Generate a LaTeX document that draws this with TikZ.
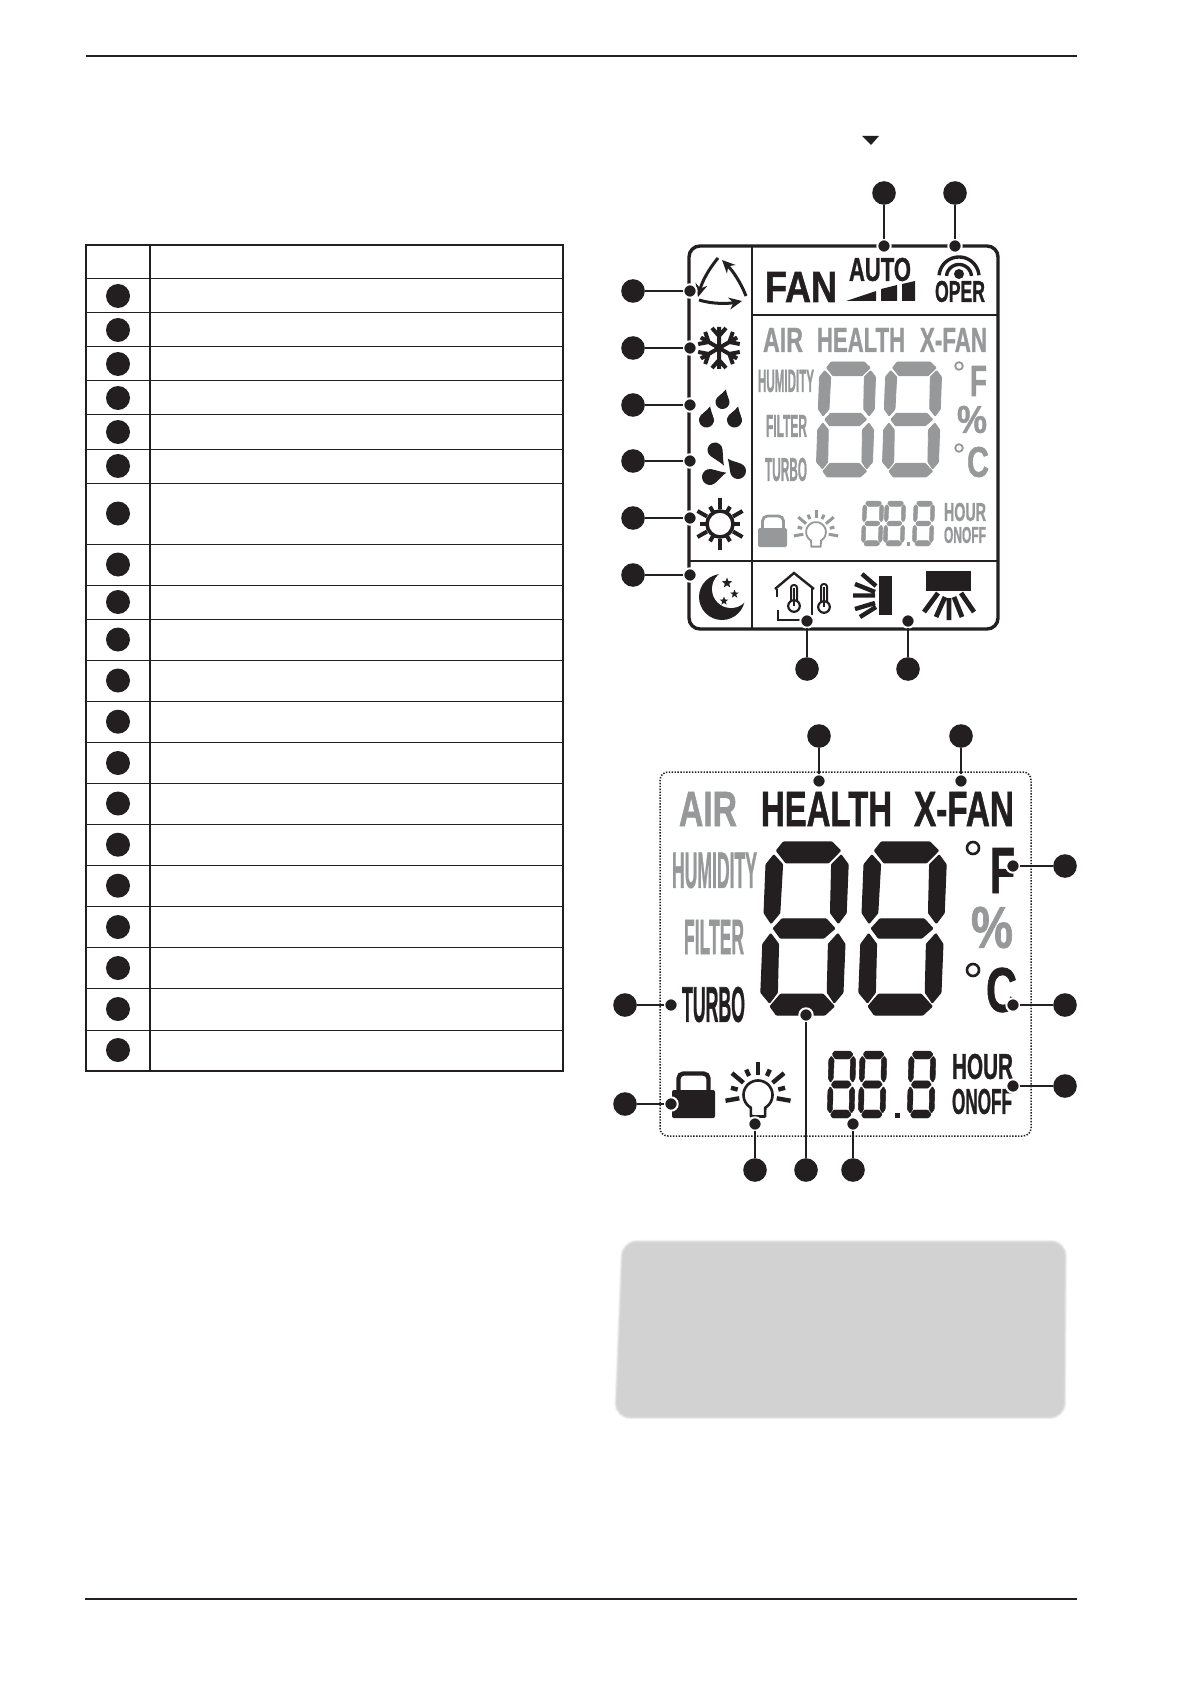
\documentclass[tikz,border=0pt]{standalone}
\usepackage{fontspec}
\usepackage{graphicx}
\setmainfont{Liberation Sans}
\newfontfamily\lcdfont[BoldFeatures={FakeBold=1.3}]{Liberation Sans}
\usetikzlibrary{arrows.meta}
\definecolor{ink}{HTML}{231F20}
\definecolor{lcdgray}{HTML}{96989A}
\definecolor{boxgray}{HTML}{D2D2D2}
\tikzset{
  bigdot/.style={circle,fill=ink,inner sep=0pt,outer sep=0pt,minimum size=11.8pt},
  smalldot/.style={circle,fill=ink,draw=white,line width=1pt,inner sep=0pt,outer sep=0pt,minimum size=6.7pt},
  leaderline/.style={draw=ink,line width=.95pt},
  lcdtxt/.style={inner sep=0pt,outer sep=0pt}
}
\newcommand\lcdtext[7]{% name x1 y1 x2 y2 color text
  \pgfmathsetmacro\lcdw{(#4-#2)*.5}\pgfmathsetmacro\lcdh{(#5-#3)*.5}
  \pgfmathsetmacro\lcdx{(#2+#4)/2}\pgfmathsetmacro\lcdy{(#3+#5)/2}
  \node[lcdtxt,text=#6] (#1) at (\lcdx,\lcdy) {\resizebox{\lcdw pt}{\lcdh pt}{\lcdfont\bfseries #7}};}
\newcommand\lead[5]{% id, big x y, small x y
  \node[bigdot] (b#1) at (#2,#3) {};
  \node[smalldot] (s#1) at (#4,#5) {};
  \draw[leaderline] (b#1) -- (s#1);}
\newcommand\segdig[6]{% x y w h skew colour
  \pgfmathsetmacro\seglw{#3/82*.6}
  \begin{scope}[shift={(#1,#2)},xscale=#3/100,yscale=#4/100,xslant=#5/#3]
  \fill[#6,draw=#6,line width=\seglw pt,rounded corners=.35pt]
   (20,0)--(79,0)--(90,5)--(76,12)--(24,12)--(12,5)--cycle
   (9,7.5)--(20,13)--(19,41)--(9,47)--(0,41)--(0,13)--cycle
   (91,7.5)--(100,13)--(100,41)--(91,47)--(81,41)--(80,13)--cycle
   (12,50)--(22,44.5)--(76,44.5)--(87,50)--(74,55.5)--(21,55.5)--cycle
   (9,53)--(19,59)--(20,87)--(11,93)--(0,87)--(0,59)--cycle
   (91,53)--(100,59)--(100,87)--(90,93)--(81,87)--(80,59)--cycle
   (12,95)--(24,88)--(76,88)--(90,95)--(79,100)--(20,100)--cycle;
  \end{scope}}
\newcommand\tear[6]{% x y r len angle colour
  \fill[#6,shift={(#1,#2)},rotate=#5]
   (#4,0) .. controls ({.55*#4},{.35*#3}) and ({.55*#3},#3) .. (0,#3)
   .. controls ({-.55*#3},#3) and (-#3,{.55*#3}) .. (-#3,0)
   .. controls (-#3,{-.55*#3}) and ({-.55*#3},-#3) .. (0,-#3)
   .. controls ({.55*#3},-#3) and ({.55*#4},{-.35*#3}) .. (#4,0) -- cycle;}
\newcommand\lockicon[9]{% x1 y1 x2 y2 sx1 sx2 top colour width
  \draw[#8,line width=#9,rounded corners=2.5pt] (#5,#2) -- (#5,#7) -- (#6,#7) -- (#6,#2);
  \fill[#8,rounded corners=1pt] (#1,#2) rectangle (#3,#4);}
\newcommand\bulbicon[5]{% x y scale colour width
  \begin{scope}[shift={(#1,#2)},scale=#3]
  \draw[#4,line width=#5,line join=round,fill=white]
    plot[domain=120:420,samples=40] ({14.5*cos(\x)},{14.5*sin(\x)}) -- (7,21.5) -- (-7,21.5) -- cycle;
  \foreach \aa/\ra/\rb in {-90/20/33,-65/21/28,-115/21/28,-40/19/34,-140/19/34,-15/21/28,-165/21/28,10/19/33,170/19/33}
    \draw[#4,line width=#3*2.2 pt] (\aa:\ra) -- (\aa:\rb);
  \end{scope}}
\newcommand\starfive[3]{%
  \fill[ink,shift={(#1,#2)}] (-90:#3) -- (-54:{#3*.42}) -- (-18:#3) -- (18:{#3*.42}) -- (54:#3) -- (90:{#3*.42}) -- (126:#3) -- (162:{#3*.42}) -- (198:#3) -- (234:{#3*.42}) -- cycle;}
\newcommand\thermo[3]{% x bulb-y top-y
  \draw[ink,line width=1pt,fill=white,rounded corners=1.3pt] (#1-3,#2-3) -- (#1-3,#3) -- (#1+3,#3) -- (#1+3,#2-3);
  \draw[ink,line width=1.1pt,fill=white] (#1,#2) circle[radius=5.8];
  \fill[ink] (#1-1,#3+3) rectangle (#1+1,#2);}
\begin{document}
\begin{tikzpicture}[x=.5pt,y=-.5pt]
\useasboundingbox (0,0) rectangle (1191,1684);
\fill[white] (0,0) rectangle (1191,1684);
% page rules
\coordinate (ruleAl) at (86,56); \coordinate (ruleAr) at (1077,56);
\coordinate (ruleBl) at (85,1599); \coordinate (ruleBr) at (1077,1599);
\draw[ink,line width=.55pt] (ruleAl) -- (ruleAr);
\draw[ink,line width=1.1pt] (ruleBl) -- (ruleBr);
\fill[ink] (862,136) -- (879,136) -- (871,145) -- cycle;
% table
\foreach \ry in {279,313,347,381,415,449,483,544.5,585.3,619.3,660.3,701.3,742.3,783.3,824.3,865.3,906.3,947.3,988.3,1030.3}
  \draw[ink,line width=.5pt] (86,\ry) -- (563,\ry);
\draw[ink,line width=.55pt] (150,245) -- (150,1071);
\draw[ink,line width=1pt] (86,245) rectangle (563,1071);
\foreach \i/\cy in {1/296,2/330,3/364,4/398,5/432,6/466,7/513.5,8/564.5,9/602,10/639.5,11/680.5,12/721.7,13/763,14/803.5,15/844.7,16/885.7,17/927,18/968,19/1009,20/1050}
  \node[bigdot,minimum size=12pt] (t\i) at (118,\cy) {};
% ---------- small display ----------
\draw[ink,line width=1.7pt,rounded corners=5.5pt] (689,246) rectangle (998,629);
\draw[ink,line width=1.3pt] (752,246) -- (752,629);
\draw[ink,line width=1.3pt] (752,315) -- (998,315);
\draw[ink,line width=1.3pt] (689,561) -- (998,561);
% mode arrows
\draw[ink,line width=1.5pt,-{Stealth[length=6.5pt,width=6pt]}] (718,258) .. controls (708,270) and (702,282) .. (698,297);
\draw[ink,line width=1.5pt,-{Stealth[length=6.5pt,width=6pt]}] (746,296) .. controls (741,283) and (733,271) .. (722,260);
\draw[ink,line width=1.5pt,-{Stealth[length=6.5pt,width=6pt]}] (699,300) .. controls (712,304) and (727,304) .. (742,301);
% snowflake
\foreach \aa in {90,30,-30,-90,-150,150}
  \draw[ink,line width=2pt,shift={(719,348)},rotate=\aa] (0,0) -- (21,0) (12,0) -- (20,7) (12,0) -- (20,-7);
% drops
\tear{722.5}{402}{7}{13}{75}{ink}
\tear{706.5}{420}{7.5}{14}{75}{ink}
\tear{734.5}{420}{7.5}{14}{75}{ink}
% fan
\tear{715}{450}{7.5}{18}{-60}{ink}
\tear{738}{471}{8}{16}{130}{ink}
\tear{710}{477}{8}{17}{15}{ink}
% sun
\draw[ink,line width=1.8pt] (720,524) circle[radius=13];
\foreach \aa/\ra/\rb in {90/15/26,-90/15/26,30/15/26,-30/15/26,150/15/26,210/15/26,0/14/20,180/14/20,60/14/20,120/14/20,240/14/20,300/14/20}
  \draw[ink,line width=2pt,shift={(720,524)}] (\aa:\ra) -- (\aa:\rb);
% moon
\fill[ink] (722,597) circle[radius=23];
\fill[white] (731,589) circle[radius=19];
\starfive{727}{583}{5.5}
\starfive{734.5}{594}{4.5}
\starfive{724}{601}{4.5}
% top row
\lcdtext{fan}{765}{272}{837}{302}{ink}{FAN}
\lcdtext{auto}{849}{258}{911}{281}{ink}{AUTO}
\lcdtext{oper}{935}{281}{985}{302}{ink}{OPER}
\fill[ink] (846,301) -- (876,291) -- (876,301) -- cycle;
\fill[ink] (881,289) -- (897,285) -- (897,301) -- (881,301) -- cycle;
\fill[ink] (902,284) -- (915,281) -- (915,301) -- (902,301) -- cycle;
\fill[ink] (959,274) circle[radius=5];
\draw[ink,line width=1.7pt] plot[domain=185:355,samples=30] ({959+20*cos(\x)},{277+20*sin(\x)});
\draw[ink,line width=1.7pt] plot[domain=185:355,samples=30] ({959+12.5*cos(\x)},{277+12.5*sin(\x)});
% middle gray
\lcdtext{airs}{763}{328}{803}{352}{lcdgray}{AIR}
\lcdtext{healths}{817}{328}{905}{352}{lcdgray}{HEALTH}
\lcdtext{xfans}{920}{328}{987}{352}{lcdgray}{X-FAN}
\lcdtext{hums}{758}{370}{814}{392}{lcdgray}{HUMIDITY}
\lcdtext{fils}{766}{415}{807}{437}{lcdgray}{FILTER}
\lcdtext{turs}{765}{458}{807}{481}{lcdgray}{TURBO}
\segdig{820}{362}{56}{115}{4}{lcdgray}
\segdig{886}{362}{56}{115}{4}{lcdgray}
\draw[lcdgray,line width=.9pt] (959,366) circle[radius=3.8];
\lcdtext{fs}{970}{366}{987}{396}{lcdgray}{F}
\lcdtext{pcts}{957}{406}{987}{433}{lcdgray}{\%}
\draw[lcdgray,line width=.9pt] (959,448) circle[radius=3.8];
\lcdtext{cs}{967}{447}{989}{477}{lcdgray}{C}
\lcdtext{hours}{944}{503}{986}{521}{lcdgray}{HOUR}
\lcdtext{onoffs}{944}{527}{986}{543}{lcdgray}{ONOFF}
\lockicon{758}{528}{787}{547}{762.5}{783.5}{516}{lcdgray}{1.4pt}
\bulbicon{816}{532}{.68}{lcdgray}{.9pt}
\segdig{863}{501}{21}{45}{2}{lcdgray}
\segdig{885}{501}{21}{45}{2}{lcdgray}
\fill[lcdgray] (907,542) rectangle (910,546);
\segdig{914}{501}{21}{45}{2}{lcdgray}
% bottom row
\draw[ink,line width=1.2pt] (777,589) -- (777,597);
\draw[ink,line width=1.2pt] (775,589) -- (794,573) -- (814,589);
\draw[ink,line width=1.2pt] (778,610) -- (778,620) -- (802,620);
\draw[ink,line width=1.2pt] (812,588) -- (812,615);
\thermo{794}{606}{585}
\thermo{824}{607}{584}
\fill[ink] (879,576) rectangle (892,615);
\draw[ink,line width=2.2pt] (862,574) -- (876,586) (855,584) -- (875,592) (853,595.5) -- (875,595.5) (855,609) -- (875,603) (860,617) -- (876,607);
\fill[ink] (926,571) rectangle (971,591);
\draw[ink,line width=2.4pt] (938,593) -- (924,612) (945,597) -- (936,617) (949,598) -- (949,620) (954,597) -- (962,617) (961,593) -- (974,612);
% leaders small display
\lead{a1}{633}{291}{690}{291}
\lead{a2}{633}{348}{690}{348}
\lead{a3}{633}{405}{690}{405}
\lead{a4}{633}{461}{690}{461}
\lead{a5}{633}{518}{690}{518}
\lead{a6}{633}{575}{690}{575}
\lead{a7}{884}{193}{884}{246}
\lead{a8}{955}{193}{955}{246}
\lead{a9}{807}{669}{807}{621}
\lead{a10}{908}{669}{908}{621}
% ---------- large display ----------
\draw[ink,line width=.75pt,dash pattern=on .7pt off .75pt,rounded corners=4pt] (660,772) rectangle (1031,1136);
\lcdtext{air}{679}{792}{737}{826}{lcdgray}{AIR}
\lcdtext{health}{761}{792}{892}{826}{ink}{HEALTH}
\lcdtext{xfan}{914}{792}{1014}{826}{ink}{X-FAN}
\lcdtext{hum}{672}{853}{757}{888}{lcdgray}{HUMIDITY}
\lcdtext{fil}{684}{920}{744}{954}{lcdgray}{FILTER}
\lcdtext{tur}{682}{987}{745}{1022}{ink}{TURBO}
\segdig{767}{842}{82}{173}{7}{ink}
\segdig{865}{842}{82}{173}{7}{ink}
\draw[ink,line width=1.3pt] (973,848) circle[radius=6];
\lcdtext{f}{990}{848}{1015}{893}{ink}{F}
\lcdtext{pct}{971}{907}{1013}{948}{lcdgray}{\%}
\draw[ink,line width=1.3pt] (973,970) circle[radius=6];
\lcdtext{c}{986}{968}{1017}{1012}{ink}{C}
\lcdtext{hour}{952}{1054}{1013}{1079}{ink}{HOUR}
\lcdtext{onoff}{952}{1089}{1012}{1114}{ink}{ONOFF}
\lockicon{672}{1090}{715}{1118}{678.5}{708.5}{1073.5}{ink}{2.2pt}
\bulbicon{758}{1095}{1}{ink}{1.3pt}
\segdig{829}{1051}{27}{67}{2}{ink}
\segdig{860}{1051}{27}{67}{2}{ink}
\fill[ink] (895,1113) rectangle (900,1118);
\segdig{909}{1051}{27}{67}{2}{ink}
\lead{c1}{819}{736}{819}{781}
\lead{c2}{961}{736}{961}{781}
\lead{c3}{1065}{866}{1013}{866}
\lead{c4}{1065}{1005}{1013}{1005}
\lead{c5}{1065}{1086}{1013}{1086}
\lead{c6}{625}{1005}{671}{1005}
\lead{c7}{625}{1104}{671}{1104}
\lead{c8}{755}{1170}{755}{1124}
\lead{c9}{806}{1170}{806}{1015}
\lead{c10}{853}{1170}{853}{1124}
% gray note box
\def\notebox{(623,1242) -- (1065,1242) -- (1064,1417) -- (616,1417) -- cycle}
\draw[rounded corners=7pt,line width=2.2pt,color=black!3] \notebox;
\draw[rounded corners=7pt,line width=1.6pt,color=black!7] \notebox;
\draw[rounded corners=7pt,line width=1pt,color=black!11] \notebox;
\draw[rounded corners=7pt,line width=.5pt,color=black!15,fill=boxgray] \notebox;
\end{tikzpicture}
\end{document}
